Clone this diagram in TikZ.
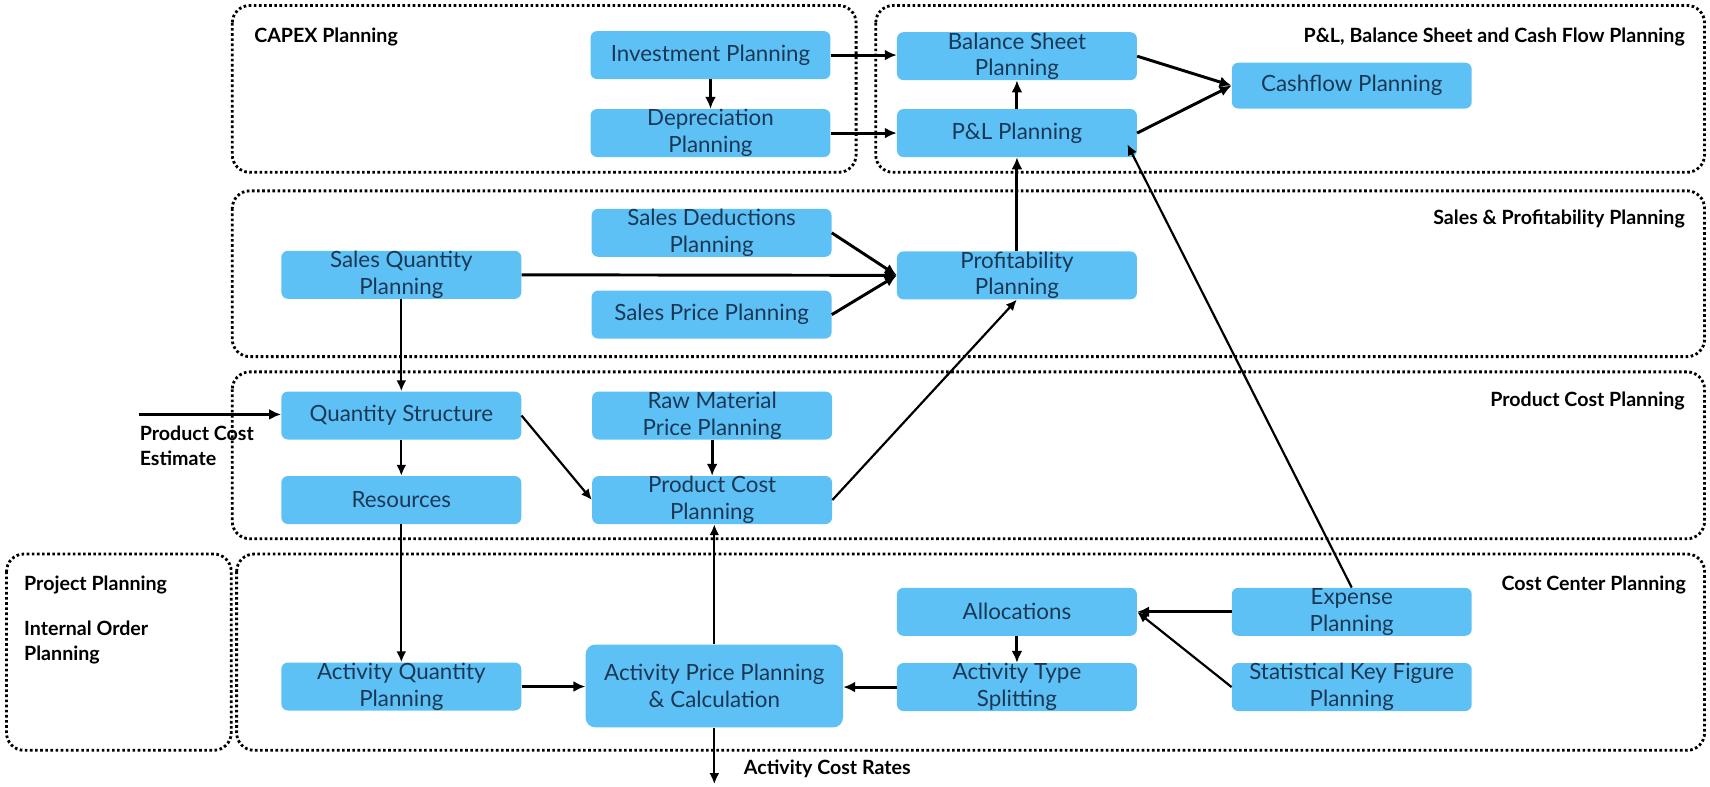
\documentclass[tikz,border=0pt]{standalone}
\usepackage{fontspec}
\setmainfont{Lato}
\usetikzlibrary{arrows.meta,calc}
\definecolor{boxfill}{RGB}{94,193,245}
\definecolor{boxtext}{RGB}{26,56,86}
\begin{document}
\begin{tikzpicture}[x=1pt,y=-1pt,
  box/.style={fill=boxfill, rounded corners=6pt, minimum width=220pt, minimum height=44pt, text=boxtext, align=center, font=\fontsize{20.5}{24.5}\selectfont, inner sep=0pt},
  grp/.style={draw=black, line width=2.6pt, dash pattern=on 2.4pt off 2.3pt, rounded corners=16pt},
  lbl/.style={font=\bfseries\fontsize{18}{23}\selectfont, inner sep=0pt, align=left},
  arr/.style={-{Latex[length=11pt,width=10pt]}, line width=2.7pt},
  tarr/.style={-{Latex[length=10pt,width=9pt]}, line width=2pt}
]
\useasboundingbox (0,0) rectangle (1568,721);
\fill[white] (0,0) rectangle (1568,721);

% groups
\draw[grp] (213,5) rectangle (785,158);
\draw[grp] (803,5) rectangle (1563,158);
\draw[grp] (213,175) rectangle (1563,327);
\draw[grp] (213,341) rectangle (1563,494);
\draw[grp] (6,508) rectangle (212,688);
\draw[grp] (217,508) rectangle (1563,688);

% group labels
\node[lbl, anchor=west] (lcapex) at (233,34) {CAPEX Planning};
\node[lbl, anchor=east] (lpl) at (1545,34) {P\&L, Balance Sheet and Cash Flow Planning};
\node[lbl, anchor=east] (lsales) at (1545,201) {Sales \& Profitability Planning};
\node[lbl, anchor=east] (lpc) at (1545,368) {Product Cost Planning};
\node[lbl, anchor=east] (lcc) at (1546,536) {Cost Center Planning};
\node[lbl, anchor=west] (lproj) at (22,536) {Project Planning};
\node[lbl, anchor=west] (lio) at (22,589) {Internal Order\\Planning};
\node[lbl, anchor=west] (lpce) at (128,409) {Product Cost\\Estimate};
\node[lbl, anchor=west] (lacr) at (682,705) {Activity Cost Rates};

% boxes
\node[box] (inv) at (651.5,50.5) {Investment Planning};
\node[box] (dep) at (651.5,122) {Depreciation\\Planning};
\node[box] (bs) at (932.5,51.5) {Balance Sheet\\Planning};
\node[box] (pl) at (932.5,122) {P\&L Planning};
\node[box, minimum height=42pt] (cf) at (1239.5,78.5) {Cashflow Planning};
\node[box] (sd) at (652.5,213.5) {Sales Deductions\\Planning};
\node[box] (sp) at (652.5,288.5) {Sales Price Planning};
\node[box] (sq) at (368,252) {Sales Quantity\\Planning};
\node[box] (prof) at (932.5,252.5) {Profitability\\Planning};
\node[box] (qs) at (368,381) {Quantity Structure};
\node[box] (rm) at (653,381) {Raw Material\\Price Planning};
\node[box] (res) at (368,458.5) {Resources};
\node[box] (pcp) at (653,458.5) {Product Cost\\Planning};
\node[box] (aq) at (368,629.5) {Activity Quantity\\Planning};
\node[box, minimum width=236pt, minimum height=76pt, rounded corners=9pt] (ap) at (655,629) {Activity Price Planning\\\& Calculation};
\node[box] (alloc) at (932.5,561) {Allocations};
\node[box] (ats) at (932.5,630) {Activity Type\\Splitting};
\node[box] (exp) at (1239.5,561) {Expense\\Planning};
\node[box] (skf) at (1239.5,630) {Statistical Key Figure\\Planning};

\coordinate (pcein) at (127,380);
\coordinate (acrout) at (655,719);

% arrows
\draw[arr] (inv.east) -- (inv.east -| bs.west);
\draw[arr] (inv.south) -- (dep.north);
\draw[arr] (dep.east) -- (dep.east -| pl.west);
\draw[arr] (pl.north) -- (bs.south);
\draw[arr] (bs.east) -- (cf.west);
\draw[arr] (pl.east) -- (cf.west);
\draw[arr] (prof.north) -- (pl.south);
\draw[arr] (sd.east) -- (prof.west);
\draw[arr] (sq.east) -- (prof.west);
\draw[arr] (sp.east) -- (prof.west);
\draw[tarr] (sq.south) -- (qs.north);
\draw[arr] (pcein) -- (pcein -| qs.west);
\draw[tarr] (qs.south) -- (res.north);
\draw[tarr] (qs.east) -- (pcp.west);
\draw[arr] (rm.south) -- (pcp.north);
\draw[tarr] (pcp.east) -- (prof.south);
\draw[tarr] (res.south) -- (aq.north);
\draw[tarr] (ap.north) -- (ap.north |- pcp.south);
\draw[arr] (aq.east) -- (aq.east -| ap.west);
\draw[arr] (ats.west) -- (ats.west -| ap.east);
\draw[arr] (alloc.south) -- (ats.north);
\draw[arr] (exp.west) -- (alloc.east);
\draw[tarr] (skf.west) -- (alloc.east);
\draw[tarr] (exp.north) -- ($(pl.south east)+(-9,-12)$);
\draw[tarr] (ap.south) -- (acrout);
\end{tikzpicture}
\end{document}
